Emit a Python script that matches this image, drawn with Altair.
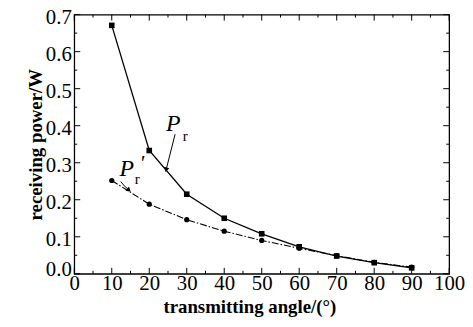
import altair as alt
import pandas as pd

angles = [10, 20, 30, 40, 50, 60, 70, 80, 90]
pr = [0.671, 0.333, 0.215, 0.150, 0.108, 0.073, 0.048, 0.030, 0.016]
pr_prime = [0.252, 0.188, 0.146, 0.115, 0.090, 0.069, 0.049, 0.031, 0.018]

x_major = [0, 10, 20, 30, 40, 50, 60, 70, 80, 90, 100]
x_minor = [5, 15, 25, 35, 45, 55, 65, 75, 85, 95]
y_major = [0.0, 0.1, 0.2, 0.3, 0.4, 0.5, 0.6, 0.7]
y_minor = [0.05, 0.15, 0.25, 0.35, 0.45, 0.55, 0.65]

W, H = 379, 262
FONT = "'Liberation Serif', 'Times New Roman', 'DejaVu Serif', serif"

xs = alt.Scale(domain=[0, 100], nice=False)
ys = alt.Scale(domain=[0, 0.7], nice=False)

STYLE = dict(ticks=False, domain=False, grid=False, labelOverlap=False, labelFlush=False,
             labelFont=FONT, labelFontSize=21, labelColor="black",
             titleFont=FONT, titleFontSize=19, titleFontWeight="bold", titleColor="black")
XAXIS = alt.Axis(values=x_major, title="transmitting angle/(°)", labelPadding=-1, titlePadding=4,
                 titleX=177, **STYLE)
YAXIS = alt.Axis(values=y_major, format=".1f", title="receiving power/W", labelPadding=3, titlePadding=0,
                 labelOffset={"condition": {"test": "datum.value < 0.05", "value": -4}, "value": 3},
                 **STYLE)

def X(field="angle"):
    return alt.X(f"{field}:Q", scale=xs, axis=XAXIS)

def Y(field="power"):
    return alt.Y(f"{field}:Q", scale=ys, axis=YAXIS)

df1 = pd.DataFrame({"angle": angles, "power": pr})
df2 = pd.DataFrame({"angle": angles, "power": pr_prime})

line1 = alt.Chart(df1).mark_line(color="black", strokeWidth=1.3).encode(x=X(), y=Y())
pts1 = alt.Chart(df1).mark_point(shape="square", filled=True, color="black", size=32, opacity=1).encode(x=X(), y=Y())
line2 = alt.Chart(df2).mark_line(color="black", strokeWidth=1.1, strokeDash=[7, 2, 1.5, 2]).encode(x=X(), y=Y())
pts2 = alt.Chart(df2).mark_point(shape="circle", filled=True, color="black", size=28, opacity=1).encode(x=X(), y=Y())

def xticks(vals, length):
    d = pd.DataFrame({"angle": vals})
    b = alt.Chart(d).mark_rule(color="black", strokeWidth=1).encode(
        x=X(), y=alt.value(H), y2=alt.value(H - length))
    t = alt.Chart(d).mark_rule(color="black", strokeWidth=1).encode(
        x=X(), y=alt.value(0), y2=alt.value(length))
    return b + t

def yticks(vals, length):
    d = pd.DataFrame({"power": vals})
    l = alt.Chart(d).mark_rule(color="black", strokeWidth=1).encode(
        y=Y(), x=alt.value(0), x2=alt.value(length))
    r = alt.Chart(d).mark_rule(color="black", strokeWidth=1).encode(
        y=Y(), x=alt.value(W), x2=alt.value(W - length))
    return l + r

ticks = xticks(x_major, 6) + xticks(x_minor, 3) + yticks(y_major, 6) + yticks(y_minor, 3)

arrow1 = pd.DataFrame({"angle": [26.9, 24.6], "power": [0.377, 0.285]})
arrow2 = pd.DataFrame({"angle": [12.4, 13.3, 14.4], "power": [0.249, 0.238, 0.228]})
arr_lines = (
    alt.Chart(arrow1).mark_line(color="black", strokeWidth=1).encode(x=X(), y=Y())
    + alt.Chart(arrow2).mark_line(color="black", strokeWidth=1).encode(x=X(), y=Y())
)
heads = pd.DataFrame({"angle": [24.5, 14.6], "power": [0.281, 0.226], "ang": [14, 310]})
arr_heads = alt.Chart(heads).mark_point(shape="triangle-down", filled=True, color="black", size=30, opacity=1).encode(
    x=X(), y=Y(), angle=alt.Angle("ang:Q", scale=None))

labels_P = pd.DataFrame({"angle": [26.4, 14.0], "power": [0.404, 0.284], "t": ["P", "P"]})
labels_r = pd.DataFrame({"angle": [29.6, 16.8], "power": [0.372, 0.256], "t": ["r", "r"]})
labels_prime = pd.DataFrame({"angle": [18.0], "power": [0.298], "t": ["'"]})
txtP = alt.Chart(labels_P).mark_text(font=FONT, fontSize=24, fontStyle="italic", color="black").encode(
    x=X(), y=Y(), text="t:N")
txtr = alt.Chart(labels_r).mark_text(font=FONT, fontSize=15, color="black").encode(
    x=X(), y=Y(), text="t:N")
txtp = alt.Chart(labels_prime).mark_text(font=FONT, fontSize=22, fontStyle="italic", color="black").encode(
    x=X(), y=Y(), text="t:N")

chart = alt.layer(
    line1, line2, pts1, pts2, ticks, arr_lines, arr_heads, txtP, txtr, txtp
).properties(
    width=W, height=H, background="white",
    autosize=alt.AutoSizeParams(type="none"),
    padding={"left": 67, "top": 5, "right": 16, "bottom": 44},
).configure_view(stroke="black", strokeWidth=1.3).configure_axis(
    labelFont=FONT, titleFont=FONT
).configure_text(font=FONT)

chart.save("out.html", embed_options={"renderer": "svg", "actions": False})
